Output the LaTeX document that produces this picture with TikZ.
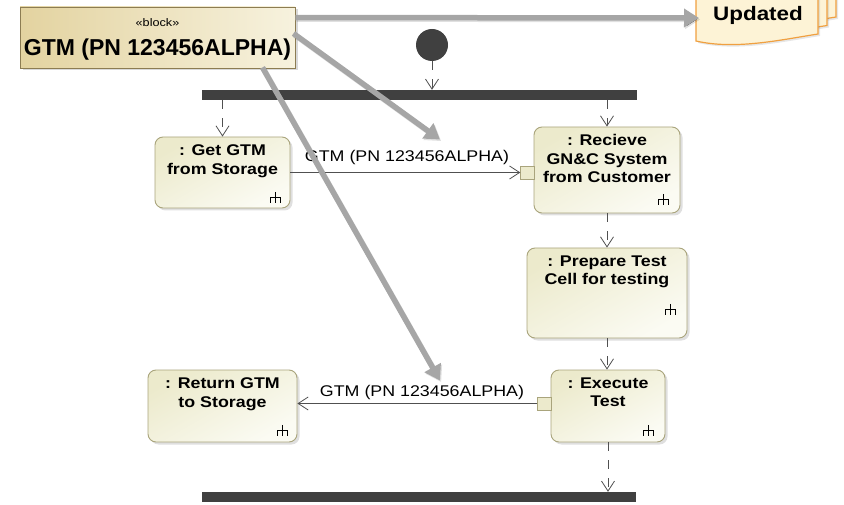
\documentclass[tikz,border=0pt]{standalone}
\usepackage{fontspec}
\setmainfont{Liberation Sans}
\newfontfamily\widesans{Liberation Sans}[FakeStretch=1.15]
\usetikzlibrary{arrows.meta,shadows,calc}

\definecolor{barcol}{HTML}{404040}
\definecolor{flowcol}{HTML}{505050}
\definecolor{actborder}{HTML}{A9A47C}
\definecolor{actfillA}{HTML}{ECEACC}
\definecolor{actfillB}{HTML}{FBFBF3}
\definecolor{blkborder}{HTML}{8C7C52}
\definecolor{blkfillA}{HTML}{E3D3A0}
\definecolor{blkfillB}{HTML}{F7F2DE}
\definecolor{notefill}{HTML}{FDF3D6}
\definecolor{noteborder}{HTML}{F0A040}
\definecolor{relgray}{HTML}{A6A6A6}

\begin{document}
\begin{tikzpicture}[x=1pt,y=-1pt,
  actbox/.style={draw=actborder, line width=0.9pt, rounded corners=8pt,
    top color=actfillA, bottom color=actfillB, shading angle=30,
    drop shadow={shadow xshift=2.5pt, shadow yshift=-2.5pt, opacity=0.25}},
  acttext/.style={anchor=north, inner sep=0pt, align=center,
    font=\widesans\bfseries\fontsize{15.5}{18.5}\selectfont},
  pinbox/.style={draw=actborder, line width=0.9pt, fill=actfillA,
    minimum width=13.5pt, minimum height=13pt, inner sep=0pt},
  flowlabel/.style={inner sep=0pt, font=\widesans\fontsize{15.5}{18}\selectfont},
  barnode/.style={fill=barcol, inner sep=0pt, minimum height=10pt},
  ctrl/.style={draw=flowcol, line width=0.8pt, dash pattern=on 9pt off 9pt,
    -{Straight Barb[length=10pt,width=13pt,line width=0.8pt]}},
  objflow/.style={draw=flowcol, line width=0.8pt,
    -{Straight Barb[length=10pt,width=13pt,line width=0.8pt]}},
  relarrow/.style={draw=relgray, line width=5.5pt,
    -{Triangle[length=15pt,width=18pt]},
    preaction={draw=black, draw opacity=0.12, line width=5.5pt,
      -{Triangle[length=15pt,width=18pt]},
      transform canvas={xshift=1.2pt,yshift=-1.5pt}}},
  sheet/.style={fill=notefill, draw=noteborder, line width=1.2pt},
  rake/.pic={
    \draw[line width=1.3pt, black] (0,-5.5) -- (0,5.5)
      (-5,5.5) -- (-5,0) -- (5,0) -- (5,5.5);
  }
]
\useasboundingbox (0,0) rectangle (844,505);

% ---- stacked "Updated" note ----
\foreach \dx/\dy in {18/-17, 9/-8.5, 0/0} {
  \path[sheet, shift={(\dx,\dy)}, drop shadow={shadow xshift=2pt, shadow yshift=-2pt, opacity=0.2}]
    (696,-20) -- (818,-20) -- (818,34)
    .. controls (780,40) and (735,50) .. (696,41) -- cycle;
}
\node[anchor=base, inner sep=0pt, font=\widesans\bfseries\fontsize{19.5}{22}\selectfont] (upd) at (758,21) {Updated};
\coordinate (updIn) at (699,18);

% ---- block ----
\node[draw=blkborder, line width=0.9pt, left color=blkfillA, right color=blkfillB,
  minimum width=275pt, minimum height=61pt, inner sep=0pt,
  drop shadow={shadow xshift=2.5pt, shadow yshift=-2.5pt, opacity=0.3}] (blk) at (157.5,37.5) {};
\node[inner sep=0pt, font=\widesans\fontsize{11}{12}\selectfont] (blkSt) at (157.5,23) {«block»};
\node[inner sep=0pt, font=\bfseries\fontsize{23}{26}\selectfont] (blkName) at (157.5,50) {GTM (PN 123456ALPHA)};

% ---- initial node and bars ----
\node[circle, fill=barcol, minimum size=32pt, inner sep=0pt] (init) at (432,45) {};
\node[barnode, minimum width=435pt] (fork) at (419.5,95) {};
\node[barnode, minimum width=434pt] (join) at (419,497) {};

% ---- actions ----
\node[actbox, minimum width=135pt, minimum height=71pt] (get) at (222.5,172.5) {};
\node[acttext] (getT) at ($(get.north)+(0,8)$) {: Get GTM\\from Storage};
\pic at ($(get.south east)+(-15,-11)$) {rake};

\node[actbox, minimum width=146pt, minimum height=86pt] (rcv) at (607,170) {};
\node[acttext] (rcvT) at ($(rcv.north)+(0,8)$) {: Recieve\\GN\&C System\\from Customer};
\pic at ($(rcv.south east)+(-17,-14)$) {rake};

\node[actbox, minimum width=160pt, minimum height=90pt] (prep) at (607,293) {};
\node[acttext] (prepT) at ($(prep.north)+(0,8)$) {: Prepare Test\\Cell for testing};
\pic at ($(prep.south east)+(-17,-29)$) {rake};

\node[actbox, minimum width=114pt, minimum height=72pt] (exe) at (608,406) {};
\node[acttext] (exeT) at ($(exe.north)+(0,8)$) {: Execute\\Test};
\pic at ($(exe.south east)+(-17,-12)$) {rake};

\node[actbox, minimum width=149pt, minimum height=72pt] (ret) at (222.5,406) {};
\node[acttext] (retT) at ($(ret.north)+(0,8)$) {: Return GTM\\to Storage};
\pic at ($(ret.south east)+(-15,-12)$) {rake};

% ---- pins ----
\node[pinbox] (pin1) at (527.5,172.5) {};
\node[pinbox] (pin2) at (544.5,403.5) {};

% ---- control flows ----
\draw[ctrl] (init.south) -- (init.south |- fork.north);
\draw[ctrl] (get.north |- fork.south) -- (get.north);
\draw[ctrl] (rcv.north |- fork.south) -- (rcv.north);
\draw[ctrl] (rcv.south) -- (rcv.south |- prep.north);
\draw[ctrl] (prep.south) -- (prep.south |- exe.north);
\draw[ctrl] (exe.south) -- (exe.south |- join.north);

% ---- object flows ----
\draw[objflow] (get.east) -- (pin1.west);
\node[flowlabel] (lbl1) at (407,157) {GTM (PN 123456ALPHA)};
\draw[objflow] (pin2.west) -- (pin2.west -| ret.east);
\node[flowlabel] (lbl2) at (422,392) {GTM (PN 123456ALPHA)};

% ---- relations from the block ----
\coordinate (r1s) at ($(blk.north east)+(0,11)$);
\coordinate (r2s) at ($(blk.east)+(-2,-4)$);
\coordinate (r3s) at ($(blk.south east)+(-33,-1)$);
\coordinate (r2e) at ($(lbl1.north)+(33,-10)$);
\coordinate (r3e) at ($(lbl2.north)+(18,-4)$);
\draw[relarrow] (r1s) -- (updIn);
\draw[relarrow] (r2s) -- (r2e);
\draw[relarrow] (r3s) -- (r3e);
\end{tikzpicture}
\end{document}
